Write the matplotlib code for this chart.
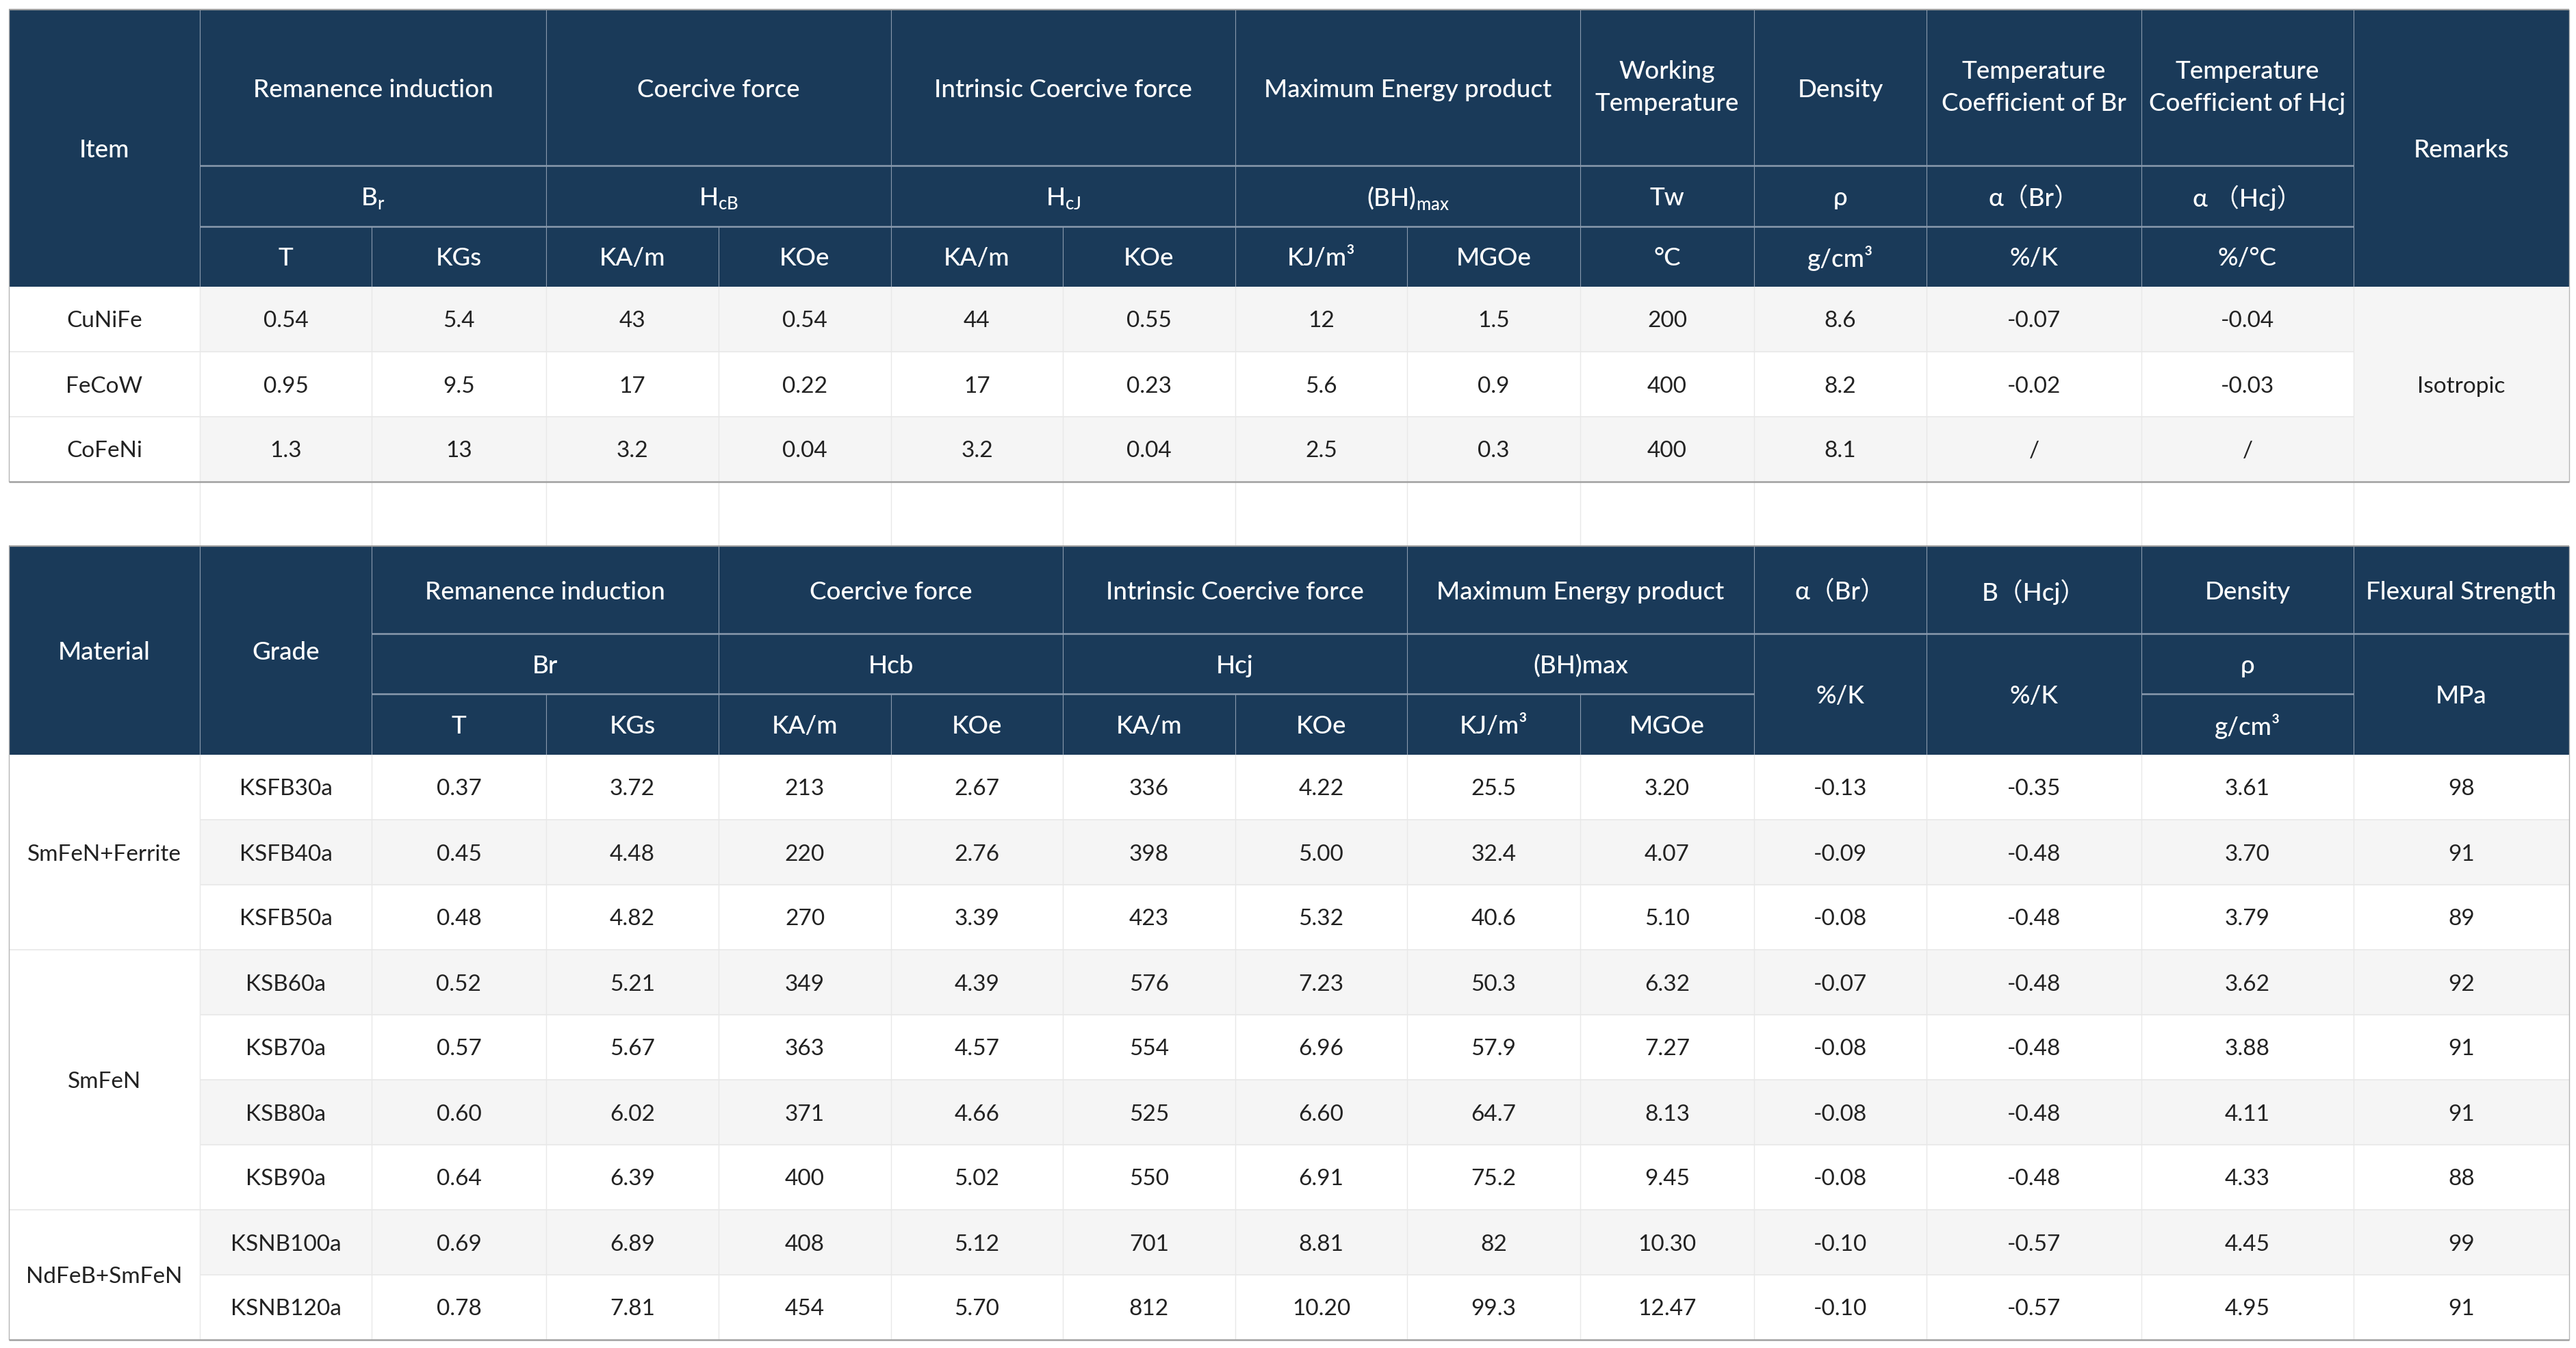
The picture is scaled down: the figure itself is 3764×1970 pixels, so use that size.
import matplotlib
matplotlib.use("Agg")
import matplotlib.pyplot as plt
from matplotlib.patches import Rectangle

plt.rcParams['font.family'] = ['Lato', 'Noto Sans CJK SC', 'DejaVu Sans']
plt.rcParams['mathtext.fontset'] = 'custom'
plt.rcParams['mathtext.rm'] = 'Lato'

# ---- top table data (alloy magnets)
items = ["CuNiFe", "FeCoW", "CoFeNi"]
br_t1 = ["0.54", "0.95", "1.3"]
br_kgs1 = ["5.4", "9.5", "13"]
hcb_kam1 = ["43", "17", "3.2"]
hcb_koe1 = ["0.54", "0.22", "0.04"]
hcj_kam1 = ["44", "17", "3.2"]
hcj_koe1 = ["0.55", "0.23", "0.04"]
bh_kj1 = ["12", "5.6", "2.5"]
bh_mgoe1 = ["1.5", "0.9", "0.3"]
work_temp = ["200", "400", "400"]
density1 = ["8.6", "8.2", "8.1"]
coef_br1 = ["-0.07", "-0.02", "/"]
coef_hcj1 = ["-0.04", "-0.03", "/"]
remark = "Isotropic"

# ---- bottom table data (bonded SmFeN grades)
materials = ["SmFeN+Ferrite", "SmFeN", "NdFeB+SmFeN"]
material_rows = [3, 4, 2]
grades = ["KSFB30a", "KSFB40a", "KSFB50a", "KSB60a", "KSB70a", "KSB80a", "KSB90a", "KSNB100a", "KSNB120a"]
br_t = ["0.37", "0.45", "0.48", "0.52", "0.57", "0.60", "0.64", "0.69", "0.78"]
br_kgs = ["3.72", "4.48", "4.82", "5.21", "5.67", "6.02", "6.39", "6.89", "7.81"]
hcb_kam = ["213", "220", "270", "349", "363", "371", "400", "408", "454"]
hcb_koe = ["2.67", "2.76", "3.39", "4.39", "4.57", "4.66", "5.02", "5.12", "5.70"]
hcj_kam = ["336", "398", "423", "576", "554", "525", "550", "701", "812"]
hcj_koe = ["4.22", "5.00", "5.32", "7.23", "6.96", "6.60", "6.91", "8.81", "10.20"]
bh_kj = ["25.5", "32.4", "40.6", "50.3", "57.9", "64.7", "75.2", "82", "99.3"]
bh_mgoe = ["3.20", "4.07", "5.10", "6.32", "7.27", "8.13", "9.45", "10.30", "12.47"]
alpha_br = ["-0.13", "-0.09", "-0.08", "-0.07", "-0.08", "-0.08", "-0.08", "-0.10", "-0.10"]
beta_hcj = ["-0.35", "-0.48", "-0.48", "-0.48", "-0.48", "-0.48", "-0.48", "-0.57", "-0.57"]
density = ["3.61", "3.70", "3.79", "3.62", "3.88", "4.11", "4.33", "4.45", "4.95"]
flexural = ["98", "91", "89", "92", "91", "91", "88", "99", "91"]

# ---- layout (pixels)
X = [13, 292, 543, 798, 1050, 1302, 1553, 1805, 2056, 2309, 2563, 2815, 3129, 3439, 3754]
top_head = [14, 242, 331, 419]
top_row_h = 95
bot_head = [798, 926, 1014, 1103]
bot_row_h = 95

NAVY = '#1a3a59'
GREY_ROW = '#f5f5f5'
HEAD_LINE = '#8a9aae'
BODY_LINE = '#e8e8e8'
TXT = '#222222'
FS_HEAD = 26.5
FS_BODY = 24

fig = plt.figure(figsize=(37.64, 19.70), dpi=100)
ax = fig.add_axes([0, 0, 1, 1])
ax.set_xlim(0, 3764)
ax.set_ylim(1970, 0)
ax.axis('off')


def box(c0, c1, y0, y1, color):
    ax.add_patch(Rectangle((X[c0], y0), X[c1] - X[c0], y1 - y0, facecolor=color, edgecolor='none', zorder=1))


def label(c0, c1, y0, y1, s, color=TXT, size=FS_BODY, weight='normal'):
    va = 'center' if '\n' in s else 'center_baseline'
    ax.text((X[c0] + X[c1]) / 2, (y0 + y1) / 2, s, ha='center', va=va,
            color=color, fontsize=size, fontweight=weight, zorder=5, linespacing=1.5)


def hline(c0, c1, y, color, lw):
    ax.plot([X[c0], X[c1]], [y, y], color=color, lw=lw, zorder=3, solid_capstyle='butt')


def vline(c, y0, y1, color, lw):
    ax.plot([X[c], X[c]], [y0, y1], color=color, lw=lw, zorder=3, solid_capstyle='butt')


def head(c0, c1, r0, r1, rows, s):
    label(c0, c1, rows[r0], rows[r1], s, color='white', size=FS_HEAD, weight='medium')


# ================= TOP TABLE =================
H = top_head
box(0, 14, H[0], H[3], NAVY)
head(0, 1, 0, 3, H, "Item")
groups1 = [("Remanence induction", r"B$_\mathregular{r}$", "T", "KGs"),
           ("Coercive force", r"H$_\mathregular{cB}$", "KA/m", "KOe"),
           ("Intrinsic Coercive force", r"H$_\mathregular{cJ}$", "KA/m", "KOe"),
           ("Maximum Energy product", r"(BH)$_\mathregular{max}$", "KJ/m³", "MGOe")]
for g, (name, sym, u1, u2) in enumerate(groups1):
    c = 1 + 2 * g
    head(c, c + 2, 0, 1, H, name)
    head(c, c + 2, 1, 2, H, sym)
    head(c, c + 1, 2, 3, H, u1)
    head(c + 1, c + 2, 2, 3, H, u2)
    vline(c + 1, H[2], H[3], HEAD_LINE, 0.8)
singles1 = [("Working\nTemperature", "Tw", "°C"),
            ("Density", "ρ", "g/cm³"),
            ("Temperature\nCoefficient of Br", "α（Br）", "%/K"),
            ("Temperature\nCoefficient of Hcj", "α （Hcj）", "%/°C")]
for k, (name, sym, unit) in enumerate(singles1):
    c = 9 + k
    head(c, c + 1, 0, 1, H, name)
    head(c, c + 1, 1, 2, H, sym)
    head(c, c + 1, 2, 3, H, unit)
head(13, 14, 0, 3, H, "Remarks")
hline(1, 13, H[1], HEAD_LINE, 1.8)
hline(1, 13, H[2], HEAD_LINE, 1.8)
for c in [1, 3, 5, 7, 9, 10, 11, 12, 13]:
    vline(c, H[0], H[3], HEAD_LINE, 0.8)

cols1 = [br_t1, br_kgs1, hcb_kam1, hcb_koe1, hcj_kam1, hcj_koe1, bh_kj1, bh_mgoe1,
         work_temp, density1, coef_br1, coef_hcj1]
y = H[3]
for i, it in enumerate(items):
    y0, y1 = y + i * top_row_h, y + (i + 1) * top_row_h
    box(0, 1, y0, y1, 'white')
    box(1, 13, y0, y1, GREY_ROW if i % 2 == 0 else 'white')
    label(0, 1, y0, y1, it)
    for j, col in enumerate(cols1):
        label(1 + j, 2 + j, y0, y1, col[i])
    if i > 0:
        hline(0, 13, y0, BODY_LINE, 1.2)
top_end = y + len(items) * top_row_h
box(13, 14, y, top_end, GREY_ROW)
label(13, 14, y, top_end, remark)
for c in range(1, 14):
    vline(c, y, bot_head[0], BODY_LINE, 1.0)
vline(0, H[0], top_end, '#b5b5b5', 1.0)
vline(14, H[0], top_end, '#b5b5b5', 1.0)
hline(0, 14, H[0], '#a0a0a0', 1.6)
hline(0, 14, top_end, '#a0a0a0', 1.8)

# ================= BOTTOM TABLE =================
B = bot_head
box(0, 14, B[0], B[3], NAVY)
head(0, 1, 0, 3, B, "Material")
head(1, 2, 0, 3, B, "Grade")
groups2 = [("Remanence induction", "Br", "T", "KGs"),
           ("Coercive force", "Hcb", "KA/m", "KOe"),
           ("Intrinsic Coercive force", "Hcj", "KA/m", "KOe"),
           ("Maximum Energy product", "(BH)max", "KJ/m³", "MGOe")]
for g, (name, sym, u1, u2) in enumerate(groups2):
    c = 2 + 2 * g
    head(c, c + 2, 0, 1, B, name)
    head(c, c + 2, 1, 2, B, sym)
    head(c, c + 1, 2, 3, B, u1)
    head(c + 1, c + 2, 2, 3, B, u2)
    vline(c + 1, B[2], B[3], HEAD_LINE, 0.8)
head(10, 11, 0, 1, B, "α（Br）")
head(10, 11, 1, 3, B, "%/K")
head(11, 12, 0, 1, B, "B（Hcj）")
head(11, 12, 1, 3, B, "%/K")
head(12, 13, 0, 1, B, "Density")
head(12, 13, 1, 2, B, "ρ")
head(12, 13, 2, 3, B, "g/cm³")
head(13, 14, 0, 1, B, "Flexural Strength")
head(13, 14, 1, 3, B, "MPa")
hline(2, 14, B[1], HEAD_LINE, 1.8)
hline(2, 10, B[2], HEAD_LINE, 1.8)
hline(12, 13, B[2], HEAD_LINE, 1.8)
for c in [1, 2, 4, 6, 8, 10, 11, 12, 13]:
    vline(c, B[0], B[3], HEAD_LINE, 0.8)

cols2 = [grades, br_t, br_kgs, hcb_kam, hcb_koe, hcj_kam, hcj_koe, bh_kj, bh_mgoe,
         alpha_br, beta_hcj, density, flexural]
y = B[3]
for i in range(len(grades)):
    y0, y1 = y + i * bot_row_h, y + (i + 1) * bot_row_h
    box(1, 14, y0, y1, GREY_ROW if i % 2 == 1 else 'white')
    for j, col in enumerate(cols2):
        label(1 + j, 2 + j, y0, y1, col[i])
    if i > 0:
        hline(1, 14, y0, BODY_LINE, 1.2)
start = 0
for m, n in zip(materials, material_rows):
    y0, y1 = y + start * bot_row_h, y + (start + n) * bot_row_h
    box(0, 1, y0, y1, 'white')
    label(0, 1, y0, y1, m)
    if start > 0:
        hline(0, 1, y0, BODY_LINE, 1.2)
    start += n
bot_end = y + len(grades) * bot_row_h
for c in range(1, 14):
    vline(c, y, bot_end, BODY_LINE, 1.0)
vline(0, B[0], bot_end, '#b5b5b5', 1.0)
vline(14, B[0], bot_end, '#b5b5b5', 1.0)
hline(0, 14, B[0], '#a0a0a0', 1.6)
hline(0, 14, bot_end, '#a0a0a0', 1.8)

fig.savefig("out.png", dpi=100)
